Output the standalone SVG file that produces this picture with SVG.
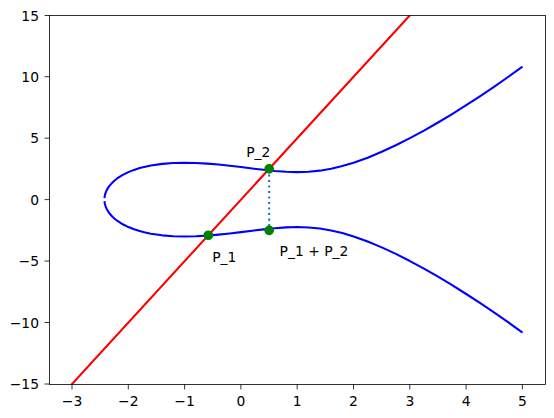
<svg xmlns="http://www.w3.org/2000/svg" xmlns:xlink="http://www.w3.org/1999/xlink" width="554" height="418" viewBox="0 0 554 418">
<style>
text{font-family:"DejaVu Sans","Liberation Sans",sans-serif;font-size:13.89px;fill:#000}
.xt{text-anchor:middle}
.yt{text-anchor:end}
.tick{stroke:#000;stroke-width:0.8}
.curve{fill:none;stroke:#0000ff;stroke-width:2.08;stroke-linejoin:round;stroke-linecap:butt}
.pt{fill:#008000;stroke:#008000;stroke-width:1.39}
</style>
<defs>
<clipPath id="ax"><rect x="49.5" y="15.5" width="496" height="369"/></clipPath>
<polyline id="upper" points="104.47,198.13 104.75,195.96 105.32,193.68 105.88,192.07 107.01,189.62 108.69,186.88 111.51,183.43 114.32,180.72 117.14,178.49 122.77,174.90 128.4,172.12 134.03,169.90 139.66,168.10 145.29,166.65 150.92,165.48 162.18,163.86 173.44,162.99 184.7,162.73 195.96,162.96 207.22,163.59 218.48,164.55 229.74,165.74 241,167.08 252.26,168.49 263.52,169.83 274.78,171.00 286.04,171.81 297.3,172.12 308.56,171.76 319.82,170.66 331.08,168.76 342.34,166.10 353.6,162.73 367.68,157.67 381.75,151.80 395.83,145.27 409.9,138.15 423.98,130.54 438.05,122.48 452.13,114.02 466.2,105.20 480.28,96.03 494.35,86.54 508.43,76.75 522.5,66.66"/>
</defs>
<rect x="0" y="0" width="554" height="418" fill="#fff"/>
<g id="curve">
<use xlink:href="#upper" class="curve"/>
<use xlink:href="#upper" class="curve" transform="translate(0,399.2) scale(1,-1)"/>
</g>
<g id="connectors">
<line id="secant" x1="72.1" y1="383.95" x2="409.9" y2="15.25" stroke="#ff0000" stroke-width="2.08" stroke-linecap="square" clip-path="url(#ax)"/>
<line id="reflect" x1="269.15" y1="168.88" x2="269.15" y2="230.33" stroke="#1f77b4" stroke-width="2.08" stroke-dasharray="2.08 3.44"/>
</g>
<g id="P1"><circle class="pt" cx="208.35" cy="235.24" r="4.17"/><text x="212.2" y="261.8">P_1</text></g>
<g id="P2"><circle class="pt" cx="269.15" cy="168.88" r="4.17"/><text x="246.2" y="157.3">P_2</text></g>
<g id="P1P2"><circle class="pt" cx="269.15" cy="230.33" r="4.17"/><text x="279.6" y="256">P_1 + P_2</text></g>
<g id="axes">
<rect x="49.5" y="15.5" width="496" height="369" fill="none" stroke="#000" stroke-width="0.8"/>
<g class="tick">
<line x1="72" y1="384.5" x2="72" y2="389.4"/>
<line x1="128.3" y1="384.5" x2="128.3" y2="389.4"/>
<line x1="184.6" y1="384.5" x2="184.6" y2="389.4"/>
<line x1="240.9" y1="384.5" x2="240.9" y2="389.4"/>
<line x1="297.2" y1="384.5" x2="297.2" y2="389.4"/>
<line x1="353.5" y1="384.5" x2="353.5" y2="389.4"/>
<line x1="409.8" y1="384.5" x2="409.8" y2="389.4"/>
<line x1="466.1" y1="384.5" x2="466.1" y2="389.4"/>
<line x1="522.4" y1="384.5" x2="522.4" y2="389.4"/>
<line x1="49.5" y1="15.5" x2="44.6" y2="15.5"/>
<line x1="49.5" y1="76.7" x2="44.6" y2="76.7"/>
<line x1="49.5" y1="138.15" x2="44.6" y2="138.15"/>
<line x1="49.5" y1="199.6" x2="44.6" y2="199.6"/>
<line x1="49.5" y1="261.05" x2="44.6" y2="261.05"/>
<line x1="49.5" y1="322.5" x2="44.6" y2="322.5"/>
<line x1="49.5" y1="384" x2="44.6" y2="384"/>
</g>
<text class="xt" x="72" y="406">−3</text>
<text class="xt" x="128.3" y="406">−2</text>
<text class="xt" x="184.6" y="406">−1</text>
<text class="xt" x="240.9" y="406">0</text>
<text class="xt" x="297.2" y="406">1</text>
<text class="xt" x="353.5" y="406">2</text>
<text class="xt" x="409.8" y="406">3</text>
<text class="xt" x="466.1" y="406">4</text>
<text class="xt" x="522.4" y="406">5</text>
<text class="yt" x="39" y="20.5">15</text>
<text class="yt" x="39" y="81.7">10</text>
<text class="yt" x="39" y="143.15">5</text>
<text class="yt" x="39" y="204.6">0</text>
<text class="yt" x="39" y="266.05">−5</text>
<text class="yt" x="39" y="327.5">−10</text>
<text class="yt" x="39" y="389">−15</text>
</g>
</svg>
